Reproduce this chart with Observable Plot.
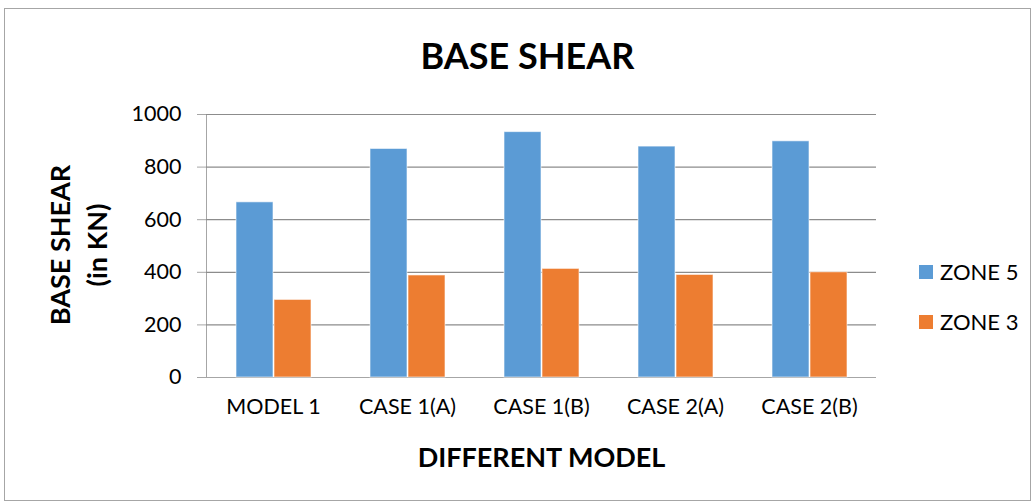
<!DOCTYPE html>
<html><head><meta charset="utf-8">
<script src="https://cdn.jsdelivr.net/npm/d3@7"></script>
<script src="https://cdn.jsdelivr.net/npm/@observablehq/plot@0.6"></script>
<style>
body{margin:0;background:#fff;}
#wrap{position:relative;width:1035px;height:501px;overflow:hidden;font-family:Lato,"Open Sans",sans-serif;color:#000;}
#border{position:absolute;left:4px;top:8px;width:1027px;height:493px;border:1px solid #a6a6a6;box-sizing:border-box;}
#chart{position:absolute;left:0;top:0;}
#chart svg text{fill:#000;}
.title{position:absolute;left:0;width:1055px;top:33px;text-align:center;font-weight:bold;font-size:36px;line-height:44px;}
.xlabel{position:absolute;left:0;width:1083px;top:440px;text-align:center;font-weight:bold;font-size:27px;line-height:34px;}
.ylabel{position:absolute;left:78px;top:245px;transform:translate(-50%,-50%) rotate(-90deg);text-align:center;font-weight:bold;font-size:27px;line-height:37px;white-space:nowrap;}
.legend{position:absolute;left:919px;font-size:22px;display:flex;align-items:center;}
.legend span.sw{display:inline-block;width:14px;height:14px;margin-right:7px;}
</style></head>
<body>
<div id="wrap">
  <div id="border"></div>
  <div id="chart"></div>
  <div class="title" id="title"></div>
  <div class="xlabel" id="xlabel"></div>
  <div class="ylabel" id="ylabel"></div>
  <div id="legend"></div>
</div>
<script>
const categories = ["MODEL 1", "CASE 1(A)", "CASE 1(B)", "CASE 2(A)", "CASE 2(B)"];
const series = ["ZONE 5", "ZONE 3"];
const zone5 = [666, 869, 933, 878, 898];
const zone3 = [295, 388, 413, 390, 400];
const yTicks = [0, 200, 400, 600, 800, 1000];
const colors = ["#5B9BD5", "#ED7D31"];
const titleText = "BASE SHEAR";
const xTitle = "DIFFERENT MODEL";
const yTitle = ["BASE SHEAR", "(in KN)"];

const data = [];
categories.forEach((c, i) => {
  data.push({category: c, zone: series[0], value: zone5[i]});
  data.push({category: c, zone: series[1], value: zone3[i]});
});

const chart = Plot.plot({
  width: 1035,
  height: 501,
  marginLeft: 206,
  marginRight: 159,
  marginTop: 114,
  marginBottom: 124,
  style: {fontFamily: "Lato, 'Open Sans', sans-serif", fontSize: "21.5px", color: "#a6a6a6", background: "transparent"},
  fx: {domain: categories, padding: 0, axis: "bottom", label: null, tickSize: 0, tickPadding: 21},
  x: {domain: series, axis: null, paddingInner: 0.03, paddingOuter: 0.76},
  y: {domain: [0, 1000], ticks: yTicks, tickFormat: d => String(d), tickSize: 9, tickPadding: 16, label: null, line: true},
  color: {domain: series, range: colors},
  marks: [
    Plot.ruleY(yTicks.filter(d => d > 0), {stroke: "#8c8c8c", strokeWidth: 1.2}),
    Plot.ruleY([0], {stroke: "#a6a6a6", strokeWidth: 1.2}),
    Plot.barY(data, {fx: "category", x: "zone", y: "value", fill: "zone", stroke: "#ffffff", strokeOpacity: 0.6, strokeWidth: 1})
  ]
});
document.getElementById("chart").appendChild(chart);
document.getElementById("title").textContent = titleText;
document.getElementById("xlabel").textContent = xTitle;
document.getElementById("ylabel").innerHTML = yTitle.join("<br>");
const leg = document.getElementById("legend");
series.forEach((s, i) => {
  const d = document.createElement("div");
  d.className = "legend";
  d.style.top = (258 + i * 50) + "px";
  d.innerHTML = `<span class="sw" style="background:${colors[i]}"></span><span>${s}</span>`;
  leg.appendChild(d);
});
</script>
</body></html>
